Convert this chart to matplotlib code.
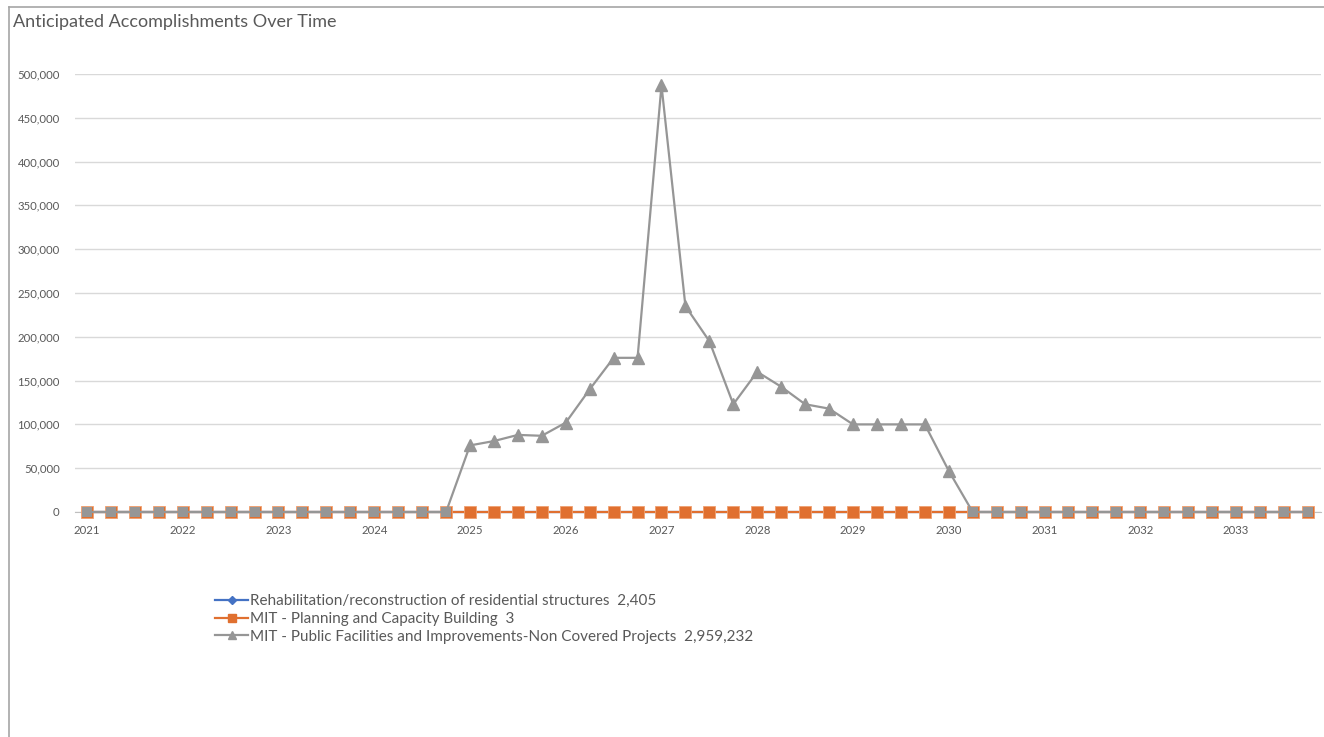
import matplotlib
matplotlib.use("Agg")
import matplotlib.pyplot as plt
from matplotlib.lines import Line2D
import numpy as np

plt.rcParams['font.family'] = ['Lato', 'DejaVu Sans']

years = list(range(2021, 2034))
quarters_per_year = 4
n_points = len(years) * quarters_per_year

rehab = [0] * n_points
planning = [0] * n_points
public = ([0] * 16 +
          [76000, 81000, 88000, 87000,
           102000, 140000, 176000, 176000,
           487000, 235000, 195000, 123000,
           160000, 143000, 123000, 118000,
           100000, 100000, 100000, 100000,
           47000] +
          [0] * 15)

series_names = [
    "Rehabilitation/reconstruction of residential structures  2,405",
    "MIT - Planning and Capacity Building  3",
    "MIT - Public Facilities and Improvements-Non Covered Projects  2,959,232",
]
blue = "#4472C4"
gray_line = "#969696"
orange = "#E07030"
text_color = "#595959"

W, H = 1324, 737
fig = plt.figure(figsize=(W / 100, H / 100), dpi=100)
ax = fig.add_axes([75 / W, 1 - 512 / H, (1321 - 75) / W, (512 - 74) / H])

x = np.arange(n_points)
ax.plot(x, rehab, color=blue, lw=1.6, marker="D", ms=4, clip_on=False, zorder=3)
ax.plot(x, planning, color=orange, lw=1.6, marker="s", ms=8, mec="#F0A070", mew=0.6,
        clip_on=False, zorder=4)
pub = np.array(public)
ax.plot(x, pub, color=gray_line, lw=1.6, zorder=5, clip_on=False)
nz = pub > 0
ax.plot(x[nz], pub[nz], ls="none", marker="^", ms=8, color=gray_line, zorder=6, clip_on=False)
z = ~nz
ax.plot(x[z], pub[z], ls="none", marker="s", ms=6.5, color=gray_line, mew=0,
        zorder=6, clip_on=False)

ax.set_xlim(-0.5, n_points - 0.45)
ax.set_ylim(0, 500000)
ax.set_yticks(np.arange(0, 500001, 50000))
ax.set_yticklabels([f"{v:,.0f}" for v in np.arange(0, 500001, 50000)])
ax.set_xticks(np.arange(0, n_points, quarters_per_year))
ax.set_xticklabels([str(y) for y in years])
ax.grid(axis="y", color="#D9D9D9", lw=1)
ax.set_axisbelow(True)
for s in ["top", "right", "left"]:
    ax.spines[s].set_visible(False)
ax.spines["bottom"].set_color("#BFBFBF")
ax.tick_params(axis="both", length=0, labelsize=8.2, colors=text_color)
ax.tick_params(axis="y", pad=11)
ax.tick_params(axis="x", pad=9)

fig.text(13 / W, 1 - 22 / H, "Anticipated Accomplishments Over Time", fontsize=13.0,
         color=text_color, va="center", ha="left")

handles = [
    Line2D([], [], color=blue, lw=1.6, marker="D", ms=4),
    Line2D([], [], color=orange, lw=1.6, marker="s", ms=6),
    Line2D([], [], color=gray_line, lw=1.6, marker="^", ms=6),
]
leg = fig.legend(handles, series_names, loc="upper left",
                 bbox_to_anchor=(209 / W, 1 - 588 / H), frameon=False,
                 fontsize=11.0, handlelength=2.15, handletextpad=0.12,
                 labelspacing=0.25, borderaxespad=0, labelcolor=text_color)

# chart border
fig.add_artist(Line2D([9 / W, 9 / W], [0, 1 - 7 / H], color="#A6A6A6", lw=1.2,
                      transform=fig.transFigure))
fig.add_artist(Line2D([9 / W, 1], [1 - 7 / H, 1 - 7 / H], color="#A6A6A6", lw=1.2,
                      transform=fig.transFigure))

fig.savefig("out.png", dpi=100, facecolor="white")
